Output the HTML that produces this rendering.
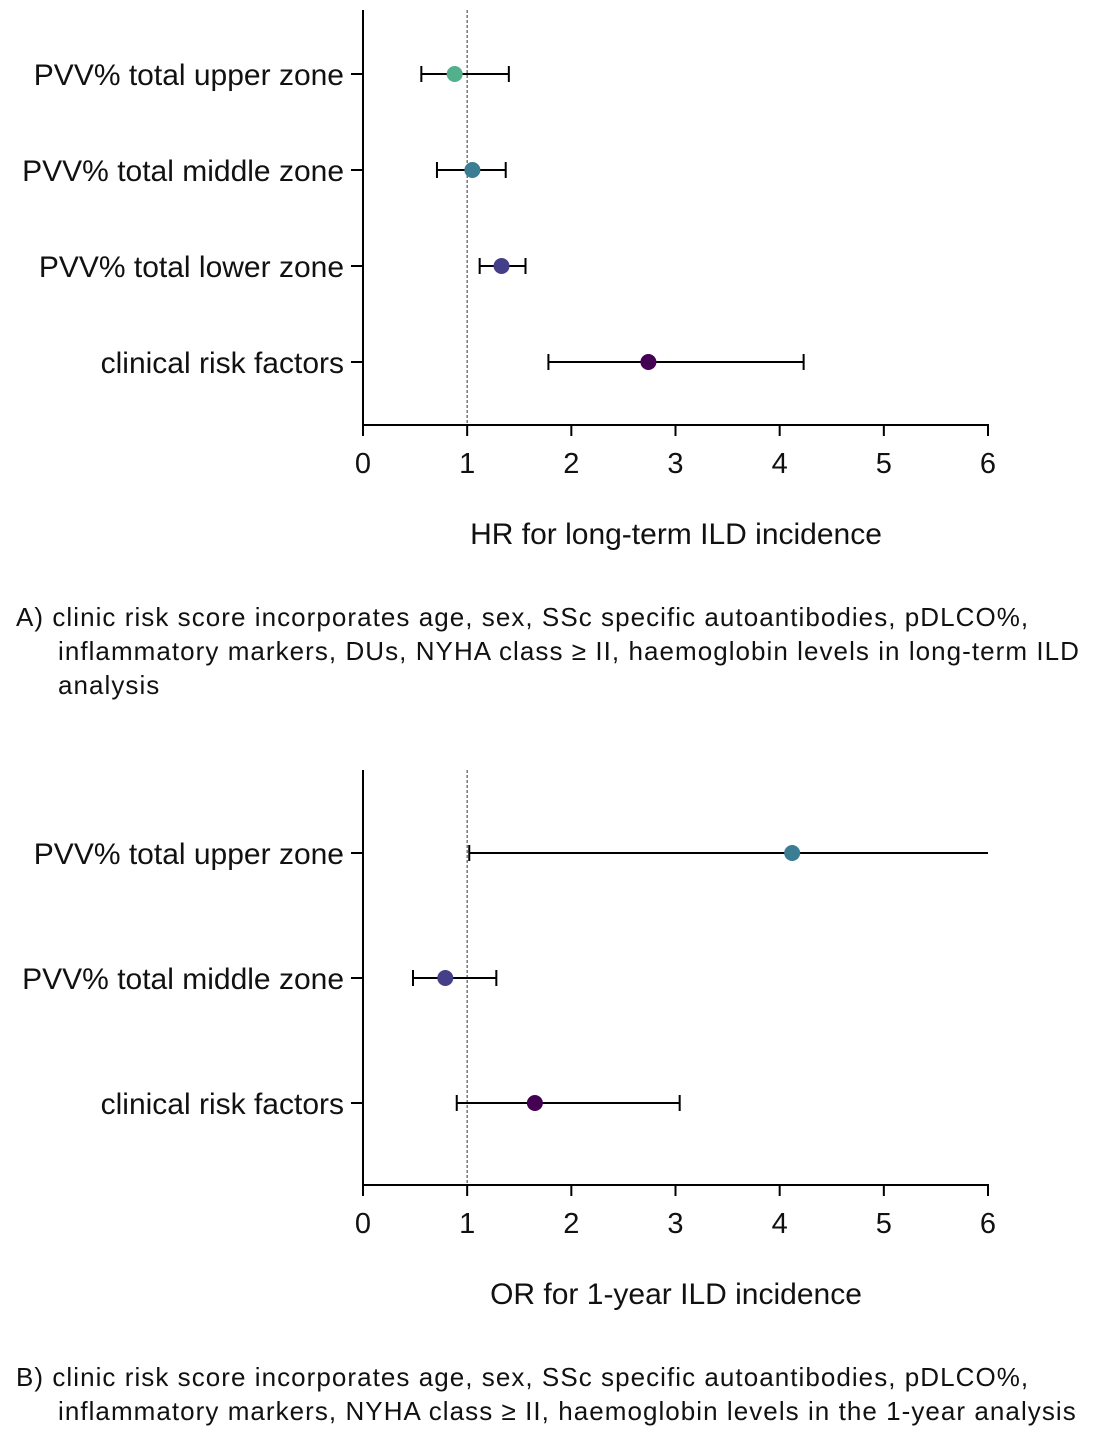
<!DOCTYPE html>
<html><head><meta charset="utf-8"><style>
body{margin:0;background:#fff;width:1109px;height:1435px;overflow:hidden;font-family:"Liberation Sans",Arial,sans-serif}
.cap{position:absolute;left:16px;font-size:26px;letter-spacing:1.05px;line-height:34px;color:#111;width:1093px;white-space:nowrap}
.cap .i{padding-left:42px;display:block}
</style></head><body>
<svg id="chart" width="1109" height="1435" style="position:absolute;left:0;top:0" font-family="Liberation Sans, Arial, sans-serif"></svg>
<div class="cap" style="top:600px">A) clinic risk score incorporates age, sex, SSc specific autoantibodies, pDLCO%,<span class="i">inflammatory markers, DUs, NYHA class ≥ II, haemoglobin levels in long-term ILD</span><span class="i">analysis</span></div>
<div class="cap" style="top:1360px">B) clinic risk score incorporates age, sex, SSc specific autoantibodies, pDLCO%,<span class="i">inflammatory markers, NYHA class ≥ II, haemoglobin levels in the 1-year analysis</span></div>
<script>
const catsA=["PVV% total upper zone","PVV% total middle zone","PVV% total lower zone","clinical risk factors"];
const estA=[0.88,1.05,1.33,2.74];
const lowA=[0.56,0.71,1.12,1.78];
const highA=[1.40,1.37,1.56,4.23];
const colA=["#52b08c","#3b7d93","#453f8a","#440154"];
const catsB=["PVV% total upper zone","PVV% total middle zone","clinical risk factors"];
const estB=[4.12,0.79,1.65];
const lowB=[1.02,0.48,0.90];
const highB=[6.0,1.28,3.04];
const colB=["#3b7d93","#453f8a","#440154"];
const ticks=[0,1,2,3,4,5,6];
const NS="http://www.w3.org/2000/svg";
const svg=document.getElementById('chart');
function mk(t,a,p){const e=document.createElementNS(NS,t);for(const k in a)e.setAttribute(k,a[k]);(p||svg).appendChild(e);return e;}
function panel(name,cats,est,low,high,col,top,bottom,ys,title){
  const g=mk('g',{});
  
  
  const x=v=>363+v*(988-363)/6;
  mk('line',{x1:363,y1:top,x2:363,y2:bottom,stroke:'#000','stroke-width':2},g);
  mk('line',{x1:363,y1:bottom,x2:989,y2:bottom,stroke:'#000','stroke-width':2},g);
  const ref=mk('line',{x1:x(1),y1:top,x2:x(1),y2:bottom,stroke:'#555','stroke-width':1.2,'stroke-dasharray':'3,2'},g);
  
  ticks.forEach(t=>{
    mk('line',{x1:x(t),y1:bottom,x2:x(t),y2:bottom+11,stroke:'#000','stroke-width':2},g);
    const tx=mk('text',{x:x(t),y:bottom+48,'font-size':29,'text-anchor':'middle',fill:'#111'},g);
    tx.textContent=t;
    
    
  });
  const ti=mk('text',{x:676,y:bottom+119,'font-size':30,'text-anchor':'middle',fill:'#111'},g);
  ti.textContent=title;
  
  
  cats.forEach((c,i)=>{
    const y=ys[i];
    mk('line',{x1:351,y1:y,x2:363,y2:y,stroke:'#000','stroke-width':2},g);
    const l=mk('text',{x:344,y:y+11,'font-size':30,'text-anchor':'end',fill:'#111'},g);
    l.textContent=c;
    
    
    const e=mk('g',{},g);
    
    
    mk('line',{x1:x(low[i]),y1:y,x2:x(high[i]),y2:y,stroke:'#000','stroke-width':2},e);
    mk('line',{x1:x(low[i]),y1:y-8,x2:x(low[i]),y2:y+8,stroke:'#000','stroke-width':2},e);
    if(high[i]<6) mk('line',{x1:x(high[i]),y1:y-8,x2:x(high[i]),y2:y+8,stroke:'#000','stroke-width':2},e);
    const p=mk('circle',{cx:x(est[i]),cy:y,r:8,fill:col[i]},g);
    
    
  });
}
panel('panel-a-forest-plot',catsA,estA,lowA,highA,colA,10,425,[74,170,266,362],'HR for long-term ILD incidence');
panel('panel-b-forest-plot',catsB,estB,lowB,highB,colB,770,1185,[853,978,1103],'OR for 1-year ILD incidence');
</script>
</body></html>
